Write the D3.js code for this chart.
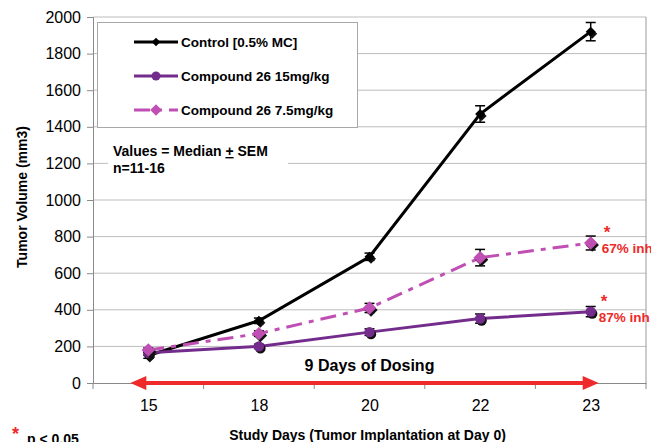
<!DOCTYPE html>
<html>
<head>
<meta charset="utf-8">
<script src="https://cdn.jsdelivr.net/npm/d3@7"></script>
<style>
  body { margin: 0; background: #fff; }
  text { font-family: "Liberation Sans", Arial, sans-serif; }
</style>
</head>
<body>
<div id="chart"></div>
<script>
// chart data
var days = ["15", "18", "20", "22", "23"];
var yTicks = [0, 200, 400, 600, 800, 1000, 1200, 1400, 1600, 1800, 2000];

var controlVals = [150, 340, 690, 1470, 1920];
var controlErr = [15, 15, 20, 45, 50];
var cmpd15Vals = [165, 200, 278, 352, 390];
var cmpd15Err = [12, 12, 18, 25, 28];
var cmpd75Vals = [180, 270, 410, 685, 765];
var cmpd75Err = [12, 15, 25, 45, 38];

var seriesNames = ["Control [0.5% MC]", "Compound 26 15mg/kg", "Compound 26 7.5mg/kg"];

var svgWidth = 651;
var svgHeight = 442;

var margin = { top: 17, right: 5, bottom: 59, left: 93 };
var width = svgWidth - margin.left - margin.right;
var height = svgHeight - margin.top - margin.bottom;

var svg = d3.select("#chart")
  .append("svg")
  .attr("width", svgWidth)
  .attr("height", svgHeight);

var chartGroup = svg.append("g")
  .attr("transform", `translate(${margin.left}, ${margin.top})`);

var xScale = d3.scalePoint()
  .domain(days)
  .range([0, width])
  .padding(0.5);

var yScale = d3.scaleLinear()
  .domain([0, 2000])
  .range([height, 0]);

// gridlines
chartGroup.append("g")
  .selectAll("line")
  .data(yTicks.filter(d => d > 0))
  .enter()
  .append("line")
  .attr("x1", 0)
  .attr("x2", width)
  .attr("y1", d => yScale(d))
  .attr("y2", d => yScale(d))
  .attr("stroke", "#bdbdbd")
  .attr("stroke-width", 1);

// right border
chartGroup.append("line")
  .attr("x1", width).attr("x2", width)
  .attr("y1", 0).attr("y2", height)
  .attr("stroke", "#9a9a9a");

// y axis
var leftAxis = d3.axisLeft(yScale)
  .tickValues(yTicks)
  .tickFormat(d3.format("d"))
  .tickSize(6)
  .tickPadding(6);

var yAxis = chartGroup.append("g").call(leftAxis);
yAxis.select(".domain").attr("stroke", "#8a8a8a");
yAxis.selectAll(".tick line").attr("stroke", "#8a8a8a");
yAxis.selectAll("text")
  .style("font-size", "16px")
  .attr("fill", "#000");

// x axis
var bottomAxis = d3.axisBottom(xScale).tickSize(0).tickPadding(17);
var xAxis = chartGroup.append("g")
  .attr("transform", `translate(0, ${height})`)
  .call(bottomAxis);
xAxis.select(".domain").attr("stroke", "#8a8a8a");
xAxis.selectAll("text")
  .style("font-size", "16px")
  .attr("fill", "#000");

// category boundary ticks
var step = xScale.step();
xAxis.selectAll(".bound")
  .data(d3.range(days.length + 1))
  .enter()
  .append("line")
  .attr("x1", i => i * step)
  .attr("x2", i => i * step)
  .attr("y1", 0)
  .attr("y2", 6)
  .attr("stroke", "#8a8a8a");

// axis titles
svg.append("text")
  .attr("transform", "rotate(-90)")
  .attr("x", -(margin.top + height / 2) + 3)
  .attr("y", 27)
  .attr("text-anchor", "middle")
  .style("font-size", "14px")
  .style("font-weight", "bold")
  .text("Tumor Volume (mm3)");

svg.append("text")
  .attr("x", margin.left + width / 2 - 2)
  .attr("y", 440)
  .attr("text-anchor", "middle")
  .style("font-size", "14px")
  .style("font-weight", "bold")
  .text("Study Days (Tumor Implantation at Day 0)");

// lines
var series = [
  { name: seriesNames[0], vals: controlVals, err: controlErr, color: "#000000", dash: null, marker: "diamond", size: 50 },
  { name: seriesNames[1], vals: cmpd15Vals, err: cmpd15Err, color: "#742c8c", dash: null, marker: "circle", size: 85 },
  { name: seriesNames[2], vals: cmpd75Vals, err: cmpd75Err, color: "#c04fb4", dash: "16,7,5,7", marker: "diamond", size: 90 }
];

var line = d3.line()
  .x((d, i) => xScale(days[i]))
  .y(d => yScale(d));

function markerPath(s, scale) {
  if (s.marker === "circle") {
    return d3.symbol().type(d3.symbolCircle).size(s.size * scale)();
  }
  return d3.symbol().type(d3.symbolSquare).size(s.size * scale)();
}
function markerRot(s) {
  return s.marker === "circle" ? "" : " rotate(45)";
}

series.forEach(function(s) {
  chartGroup.append("path")
    .datum(s.vals)
    .attr("d", line)
    .attr("fill", "none")
    .attr("stroke", s.color)
    .attr("stroke-width", 3)
    .attr("stroke-dasharray", s.dash);
});

// error bars
series.forEach(function(s) {
  var g = chartGroup.append("g");
  s.vals.forEach(function(v, i) {
    var x = xScale(days[i]);
    g.append("line")
      .attr("x1", x).attr("x2", x)
      .attr("y1", yScale(v + s.err[i])).attr("y2", yScale(v - s.err[i]))
      .attr("stroke", "#000").attr("stroke-width", 1.5);
    [v + s.err[i], v - s.err[i]].forEach(function(e) {
      g.append("line")
        .attr("x1", x - 5).attr("x2", x + 5)
        .attr("y1", yScale(e)).attr("y2", yScale(e))
        .attr("stroke", "#000").attr("stroke-width", 1.5);
    });
  });
});

// markers with shadow
series.forEach(function(s) {
  chartGroup.append("g")
    .selectAll("path")
    .data(s.vals)
    .enter()
    .append("path")
    .attr("d", markerPath(s, 1))
    .attr("transform", (d, i) => `translate(${xScale(days[i]) + 1.5}, ${yScale(d) + 2})` + markerRot(s))
    .attr("fill", "#111");
  chartGroup.append("g")
    .selectAll("path")
    .data(s.vals)
    .enter()
    .append("path")
    .attr("d", markerPath(s, 1))
    .attr("transform", (d, i) => `translate(${xScale(days[i])}, ${yScale(d)})` + markerRot(s))
    .attr("fill", s.color);
});

// legend
var legend = svg.append("g");
legend.append("rect")
  .attr("x", 97.5).attr("y", 22.5)
  .attr("width", 260).attr("height", 105)
  .attr("fill", "#fff")
  .attr("stroke", "#a8a8a8");

series.forEach(function(s, i) {
  var y = 42 + i * 34;
  legend.append("line")
    .attr("x1", 134).attr("x2", 178)
    .attr("y1", y).attr("y2", y)
    .attr("stroke", s.color)
    .attr("stroke-width", 3)
    .attr("stroke-dasharray", s.dash);
  legend.append("path")
    .attr("d", markerPath(s, 0.75))
    .attr("transform", `translate(156, ${y})` + markerRot(s))
    .attr("fill", s.color);
  legend.append("text")
    .attr("x", 181)
    .attr("y", y + 5)
    .style("font-size", "13.5px")
    .style("font-weight", "bold")
    .text(s.name);
});

// stats note
var note = svg.append("g");
note.append("rect")
  .attr("x", 108).attr("y", 140)
  .attr("width", 180).attr("height", 36)
  .attr("fill", "#fff");
var noteText = note.append("text")
  .attr("x", 113).attr("y", 156)
  .style("font-size", "14px")
  .style("font-weight", "bold");
noteText.append("tspan").text("Values = Median ");
noteText.append("tspan").style("text-decoration", "underline").text("+");
noteText.append("tspan").text(" SEM");
note.append("text")
  .attr("x", 113).attr("y", 173)
  .style("font-size", "14px")
  .style("font-weight", "bold")
  .text("n=11-16");

// dosing arrow
var arrowY = margin.top + height;
var ax1 = margin.left + xScale(days[0]) - 18;
var ax2 = margin.left + xScale(days[days.length - 1]) + 8;
svg.append("line")
  .attr("x1", ax1 + 12).attr("x2", ax2 - 12)
  .attr("y1", arrowY).attr("y2", arrowY)
  .attr("stroke", "#ee2a2a")
  .attr("stroke-width", 4);
svg.append("path")
  .attr("d", `M${ax1},${arrowY} L${ax1 + 16},${arrowY - 7} L${ax1 + 16},${arrowY + 7} Z`)
  .attr("fill", "#ee2a2a");
svg.append("path")
  .attr("d", `M${ax2},${arrowY} L${ax2 - 16},${arrowY - 7} L${ax2 - 16},${arrowY + 7} Z`)
  .attr("fill", "#ee2a2a");
svg.append("text")
  .attr("x", margin.left + xScale(days[2]))
  .attr("y", 371)
  .attr("text-anchor", "middle")
  .style("font-size", "16px")
  .style("font-weight", "bold")
  .text("9 Days of Dosing");

// inhibition labels
var lastX = margin.left + xScale(days[days.length - 1]);
[{ v: cmpd75Vals[4], label: "67% inh", dx: 11 }, { v: cmpd15Vals[4], label: "87% inh", dx: 8 }].forEach(function(a) {
  var y = margin.top + yScale(a.v);
  svg.append("text")
    .attr("x", lastX + a.dx + 2).attr("y", y - 5)
    .attr("fill", "#ee2a2a")
    .style("font-size", "17px")
    .style("font-weight", "bold")
    .text("*");
  svg.append("text")
    .attr("x", lastX + a.dx).attr("y", y + 10)
    .attr("fill", "#ee2a2a")
    .style("font-size", "13.5px")
    .style("font-weight", "bold")
    .text(a.label);
});

// significance footnote
svg.append("text")
  .attr("x", 12).attr("y", 440)
  .attr("fill", "#ee2a2a")
  .style("font-size", "18px")
  .style("font-weight", "bold")
  .text("*");
svg.append("text")
  .attr("x", 27).attr("y", 444)
  .style("font-size", "14px")
  .style("font-weight", "bold")
  .text("p < 0.05");
</script>
</body>
</html>
